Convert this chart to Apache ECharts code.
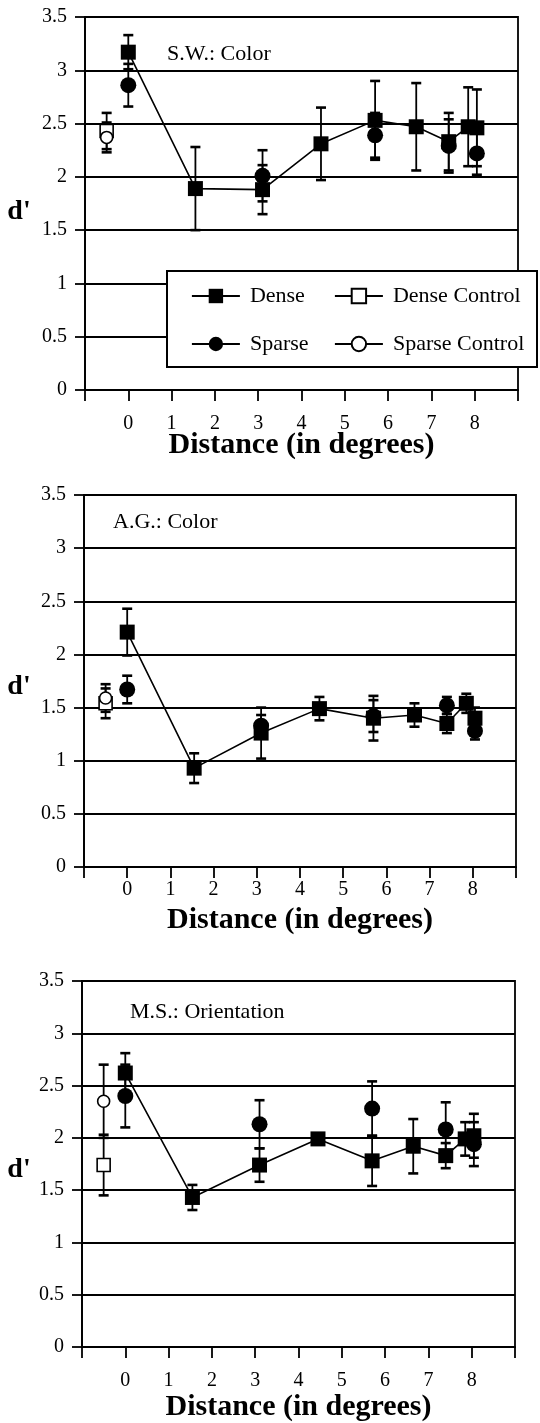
<!DOCTYPE html>
<html>
<head>
<meta charset="utf-8">
<script src="https://cdn.jsdelivr.net/npm/echarts@6/dist/echarts.min.js"></script>
<style>
  html, body { margin: 0; padding: 0; background: #fff; }
  #chart { width: 540px; height: 1423px; }
</style>
</head>
<body>
<div id="chart"></div>
<script>
// distance (deg) of each test position; controls are drawn left of 0
const denseX = [0, 1.55, 3.1, 4.45, 5.7, 6.65, 7.4, 7.85, 8.05];
const sparseX = [0, 3.1, 5.7, 7.4, 8.05];
const controlX = -0.5;

const panelTitles = ['S.W.: Color', 'A.G.: Color', 'M.S.: Orientation'];

// S.W.: Color
const swDense = [3.17, 1.89, 1.88, 2.31, 2.53, 2.47, 2.33, 2.47, 2.46];
const swDenseErr = [0.16, 0.39, 0.23, 0.34, 0.37, 0.41, 0.27, 0.37, 0.36];
const swSparse = [2.86, 2.01, 2.39, 2.29, 2.22];
const swSparseErr = [0.20, 0.24, 0.21, 0.25, 0.20];
const swControl = [2.43, 2.37]; // dense control, sparse control
const swControlErr = [0.17, 0.14];

// A.G.: Color
const agDense = [2.21, 0.93, 1.26, 1.49, 1.40, 1.43, 1.35, 1.54, 1.40];
const agDenseErr = [0.22, 0.14, 0.24, 0.11, 0.21, 0.11, 0.09, 0.09, 0.10];
const agSparse = [1.67, 1.33, 1.42, 1.52, 1.28];
const agSparseErr = [0.13, 0.10, 0.15, 0.08, 0.08];
const agControl = [1.54, 1.59];
const agControlErr = [0.14, 0.13];

// M.S.: Orientation
const msDense = [2.62, 1.43, 1.74, 1.99, 1.78, 1.92, 1.83, 1.99, 2.02];
const msDenseErr = [0.19, 0.12, 0.16, 0.05, 0.24, 0.26, 0.12, 0.16, 0.21];
const msSparse = [2.40, 2.13, 2.28, 2.08, 1.94];
const msSparseErr = [0.30, 0.23, 0.26, 0.26, 0.21];
const msControl = [1.74, 2.35];
const msControlErr = [0.29, 0.35];

const panels = [
  { dense: swDense, denseErr: swDenseErr, sparse: swSparse, sparseErr: swSparseErr, ctrl: swControl, ctrlErr: swControlErr },
  { dense: agDense, denseErr: agDenseErr, sparse: agSparse, sparseErr: agSparseErr, ctrl: agControl, ctrlErr: agControlErr },
  { dense: msDense, denseErr: msDenseErr, sparse: msSparse, sparseErr: msSparseErr, ctrl: msControl, ctrlErr: msControlErr },
];

const FONT = "'Liberation Serif', 'Times New Roman', serif";

// pixel layout of the three plots
const grids = [
  { left: 85, top: 17, width: 433, height: 373 },
  { left: 84, top: 495, width: 432, height: 372 },
  { left: 82, top: 981, width: 433, height: 370 },
];
const labelMargin = [24, 13, 24];
const nameGap = [40, 38, 45];
const titlePos = [[167, 54], [113, 522], [130, 1012]];
const dPos = [212, 687, 1170];

function renderErr(params, api) {
  const hi = api.coord([api.value(0), api.value(2)]);
  const lo = api.coord([api.value(0), api.value(1)]);
  const w = 5;
  const bar = { stroke: '#000', lineWidth: 1.8 };
  const cap = { stroke: '#000', lineWidth: 2.6 };
  return {
    type: 'group',
    children: [
      { type: 'line', shape: { x1: hi[0], y1: hi[1], x2: lo[0], y2: lo[1] }, style: bar },
      { type: 'line', shape: { x1: hi[0] - w, y1: hi[1], x2: hi[0] + w, y2: hi[1] }, style: cap },
      { type: 'line', shape: { x1: lo[0] - w, y1: lo[1], x2: lo[0] + w, y2: lo[1] }, style: cap },
    ],
  };
}

const xAxis = [], yAxis = [], series = [], graphic = [];

panels.forEach((p, i) => {
  xAxis.push({
    gridIndex: i,
    type: 'value',
    min: -1,
    max: 9,
    interval: 1,
    name: 'Distance (in degrees)',
    nameLocation: 'middle',
    nameGap: nameGap[i],
    nameMoveOverlap: false,
    nameTextStyle: { fontFamily: FONT, fontSize: 30, fontWeight: 'bold', color: '#000' },
    axisLine: { onZero: false, lineStyle: { color: '#000', width: 1.8 } },
    axisTick: { length: 11, lineStyle: { color: '#000', width: 1.8 } },
    axisLabel: {
      margin: labelMargin[i],
      fontFamily: FONT,
      fontSize: 20,
      color: '#000',
      formatter: (v) => (v < 0 || v > 8 ? '' : String(v)),
    },
    splitLine: { show: false },
  });
  yAxis.push({
    gridIndex: i,
    type: 'value',
    min: 0,
    max: 3.5,
    interval: 0.5,
    axisLine: { show: true, onZero: false, lineStyle: { color: '#000', width: 1.8 } },
    axisTick: { show: true, length: 10, lineStyle: { color: '#000', width: 1.8 } },
    axisLabel: { margin: 18, fontFamily: FONT, fontSize: 20, color: '#000' },
    splitLine: { show: true, lineStyle: { color: '#000', width: 1.8 } },
  });

  const errData = [];
  p.dense.forEach((v, k) => errData.push([denseX[k], v - p.denseErr[k], v + p.denseErr[k]]));
  p.sparse.forEach((v, k) => errData.push([sparseX[k], v - p.sparseErr[k], v + p.sparseErr[k]]));
  p.ctrl.forEach((v, k) => errData.push([controlX, v - p.ctrlErr[k], v + p.ctrlErr[k]]));

  series.push({
    type: 'custom',
    name: 'errors',
    xAxisIndex: i,
    yAxisIndex: i,
    renderItem: renderErr,
    encode: { x: 0, y: [1, 2] },
    data: errData,
    z: 2,
    silent: true,
  });
  series.push({
    type: 'line',
    name: 'Sparse',
    xAxisIndex: i,
    yAxisIndex: i,
    data: p.sparse.map((v, k) => [sparseX[k], v]),
    symbol: 'circle',
    symbolSize: 16,
    itemStyle: { color: '#000' },
    lineStyle: { color: '#000', opacity: 0 },
    z: 3,
  });
  series.push({
    type: 'line',
    name: 'Dense',
    xAxisIndex: i,
    yAxisIndex: i,
    data: p.dense.map((v, k) => [denseX[k], v]),
    symbol: 'rect',
    symbolSize: 15,
    itemStyle: { color: '#000' },
    lineStyle: { color: '#000', width: 1.6 },
    z: 4,
  });
  series.push({
    type: 'line',
    name: 'Dense Control',
    xAxisIndex: i,
    yAxisIndex: i,
    data: [[controlX, p.ctrl[0]]],
    symbol: 'rect',
    symbolSize: 13,
    itemStyle: { color: '#fff', borderColor: '#000', borderWidth: 1.6 },
    lineStyle: { color: '#000', opacity: 0 },
    z: 4,
  });
  series.push({
    type: 'line',
    name: 'Sparse Control',
    xAxisIndex: i,
    yAxisIndex: i,
    data: [[controlX, p.ctrl[1]]],
    symbol: 'circle',
    symbolSize: 12,
    itemStyle: { color: '#fff', borderColor: '#000', borderWidth: 1.6 },
    lineStyle: { color: '#000', opacity: 0 },
    z: 5,
  });

  graphic.push({
    type: 'text',
    x: titlePos[i][0],
    y: titlePos[i][1],
    style: { text: panelTitles[i], fontFamily: FONT, fontSize: 22, fill: '#000', align: 'left', verticalAlign: 'middle' },
    z: 6,
  });
  graphic.push({
    type: 'text',
    x: 19,
    y: dPos[i],
    style: { text: "d'", fontFamily: FONT, fontSize: 28, fontWeight: 'bold', fill: '#000', align: 'center', verticalAlign: 'middle' },
    z: 6,
  });
});

// legend box in the first panel
graphic.push({
  type: 'rect',
  shape: { x: 167, y: 271, width: 370, height: 96 },
  style: { fill: '#fff', stroke: '#000', lineWidth: 2 },
  z: 8,
});

const legendBase = {
  orient: 'vertical',
  top: 280,
  itemWidth: 48,
  itemHeight: 18,
  itemGap: 26,
  selectedMode: false,
  z: 10,
  textStyle: { fontFamily: FONT, fontSize: 22, color: '#000', padding: [0, 0, 0, 5] },
  lineStyle: { color: '#000', width: 1.8, opacity: 1 },
};

const chart = echarts.init(document.getElementById('chart'));
chart.setOption({
  backgroundColor: '#fff',
  animation: false,
  grid: grids.map((g) => Object.assign({ show: true, borderColor: '#000', borderWidth: 1.8, backgroundColor: 'transparent' }, g)),
  xAxis: xAxis,
  yAxis: yAxis,
  legend: [
    Object.assign({}, legendBase, { left: 186, data: ['Dense', 'Sparse'] }),
    Object.assign({}, legendBase, { left: 329, data: ['Dense Control', 'Sparse Control'] }),
  ],
  graphic: graphic,
  series: series,
});
</script>
</body>
</html>
